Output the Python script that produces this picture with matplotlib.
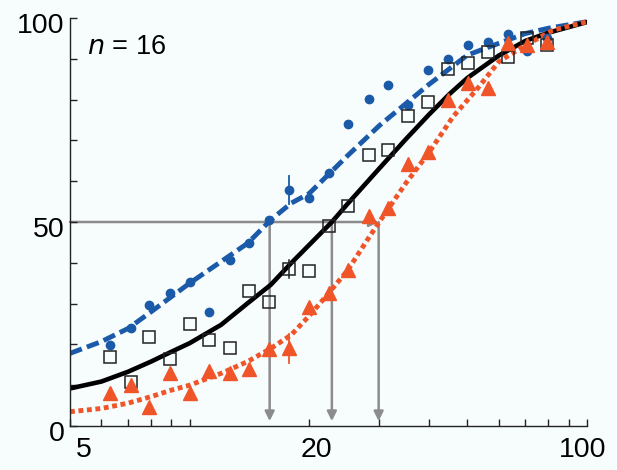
import matplotlib.pyplot as plt
from matplotlib.ticker import FixedLocator, NullFormatter
import matplotlib.transforms as mtransforms

# wartosci x punktow pomiarowych (wspolne dla trzech serii)
x_pkt = [6.3, 7.1, 7.9, 8.9, 10.0, 11.2, 12.6, 14.1, 15.8, 17.8, 20.0, 22.4,
         25.1, 28.2, 31.6, 35.5, 39.8, 44.7, 50.1, 56.2, 63.1, 70.8, 79.4]

# niebieskie kropki
y_nieb = [19.9, 24.0, 29.7, 32.5, 35.4, 28.0, 40.7, 44.8, 50.5, 57.8, 56.0, 62.0,
          74.0, 80.1, 83.6, 78.7, 87.2, 90.0, 93.4, 94.0, 96.0, 91.8, 95.0]
# czarne kwadraty
y_kwad = [17.0, 10.9, 21.9, 16.4, 25.0, 21.1, 19.0, 33.1, 30.5, 38.4, 38.1, 49.0,
          53.9, 66.4, 67.6, 76.0, 79.5, 87.5, 88.9, 91.6, 90.5, 95.2, 93.3]
# pomaranczowe trojkaty
y_troj = [8.0, 10.0, 4.7, 13.1, 8.2, 13.6, 13.1, 13.9, 18.8, 19.0, 29.2, 32.5,
          38.3, 51.5, 53.4, 64.2, 67.2, 79.9, 84.1, 82.8, 93.9, 93.4, 94.2]

# slupki bledow (jeden punkt na serie)
err_x = 17.8
err_nieb = 3.4
err_kwad = 2.2
err_troj = 3.5

# krzywe dopasowania
kx_nieb = [5, 6, 7, 8, 9, 10, 12, 14, 16, 18, 20, 25, 30, 40, 50, 60, 70, 80, 100]
ky_nieb = [17.8, 20.7, 23.9, 28.0, 31.7, 35.0, 40.3, 44.8, 50.5, 54.6, 57.0, 66.3,
           73.6, 83.7, 90.9, 93.8, 96.2, 97.5, 99.1]

kx_czarna = [5, 6, 7, 8, 9, 10, 12, 14, 16, 18, 20, 22.8, 25, 30, 35, 40, 45, 50, 60, 70, 80, 100]
ky_czarna = [9.2, 10.9, 13.3, 15.8, 18.2, 20.3, 24.8, 30.1, 34.6, 39.9, 44.4, 50.0,
             54.5, 63.1, 70.3, 76.3, 81.3, 85.3, 90.8, 94.4, 96.4, 99.0]

kx_pom = [5, 6, 7, 8, 9, 10, 12, 14, 16, 18, 20, 22, 25, 28, 30, 35, 40, 46, 53, 60, 68, 82, 100]
ky_pom = [3.5, 4.3, 5.6, 7.2, 8.8, 10.0, 12.9, 15.8, 19.0, 22.3, 27.0, 31.7, 38.2,
          45.6, 50.0, 59.5, 67.0, 75.8, 82.7, 89.3, 92.6, 97.0, 99.1]

# punkty 50%
x50 = [15.9, 22.8, 29.9]

NIEBIESKI = '#1a5aa8'
POMARANCZ = '#f0552a'
SZARY = '#8c8c8c'
TLO = '#f7fcfd'

plt.rcParams['font.family'] = ['Liberation Sans', 'DejaVu Sans']

fig = plt.figure(figsize=(6.17, 4.70), dpi=100, facecolor=TLO)
ax = fig.add_axes([70 / 617, 1 - 426 / 470, 517 / 617, 408 / 470])
ax.set_facecolor(TLO)

# szare linie pomocnicze ze strzalkami
strz = dict(arrowstyle='-|>', color=SZARY, lw=1.8, mutation_scale=14, shrinkA=0, shrinkB=0)
ax.annotate('', xy=(max(x50), 50), xytext=(5, 50), arrowprops=strz, zorder=1)
for xv in x50:
    ax.annotate('', xy=(xv, 1.2), xytext=(xv, 50), arrowprops=strz, zorder=1)

# krzywe
ax.plot(kx_nieb, ky_nieb, color=NIEBIESKI, lw=3.5, linestyle=(0, (2.6, 1.1)), zorder=2)
ax.plot(kx_czarna, ky_czarna, color='black', lw=3.3, zorder=2)
ax.plot(kx_pom, ky_pom, color=POMARANCZ, lw=3.5, linestyle=(0, (1.0, 0.75)), zorder=2)

# punkty
ax.plot(x_pkt, y_nieb, 'o', color=NIEBIESKI, ms=6, zorder=3)
ax.plot(x_pkt, y_kwad, 's', mfc='none', mec='#222222', mew=1.1, ms=8, zorder=3)
ax.plot(x_pkt, y_troj, '^', color=POMARANCZ, ms=10, zorder=3)

# slupki bledow
i = x_pkt.index(err_x)
ax.plot([err_x, err_x], [y_nieb[i] - err_nieb, y_nieb[i] + err_nieb], color=NIEBIESKI, lw=1.3, zorder=3)
ax.plot([err_x, err_x], [y_kwad[i] - err_kwad, y_kwad[i] + err_kwad], color='#222222', lw=1.1, zorder=3)
ax.plot([err_x, err_x], [y_troj[i] - err_troj, y_troj[i] + err_troj], color=POMARANCZ, lw=1.3, zorder=3)

ax.set_xscale('log')
ax.set_xlim(5, 100)
ax.set_ylim(0, 100)

for s in ['top', 'right']:
    ax.spines[s].set_visible(False)
for s in ['left', 'bottom']:
    ax.spines[s].set_linewidth(1.0)
    ax.spines[s].set_color('#222222')

ax.xaxis.set_major_locator(FixedLocator([5, 20, 100]))
ax.xaxis.set_minor_locator(FixedLocator([6, 7, 8, 9, 10, 30, 40, 50, 60, 70, 80, 90]))
ax.xaxis.set_minor_formatter(NullFormatter())
ax.set_xticklabels(['5', '20', '100'])
ax.set_yticks([0, 50, 100])
ax.set_yticks([10, 20, 30, 40, 60, 70, 80, 90], minor=True)
ax.set_yticklabels(['0', '50', '100'])

ax.tick_params(which='both', direction='in', length=5, width=1.0, color='#222222')
ax.tick_params(axis='x', which='major', labelsize=20.5, pad=8)
ax.tick_params(axis='y', which='major', labelsize=20.5, pad=4)

# drobne przesuniecia etykiet jak na oryginale
przes_x = [14, 7, -4]
for lab, dx in zip(ax.get_xticklabels(), przes_x):
    lab.set_transform(lab.get_transform() + mtransforms.ScaledTranslation(dx / 100, 0, fig.dpi_scale_trans))
for lab in ax.get_yticklabels():
    lab.set_transform(lab.get_transform() + mtransforms.ScaledTranslation(0, -5 / 100, fig.dpi_scale_trans))

ax.text(0.032, 0.93, r'$\it{n}$ = 16', transform=ax.transAxes, fontsize=19.5, va='center', ha='left')

fig.savefig('out.png', dpi=100, facecolor=TLO)
